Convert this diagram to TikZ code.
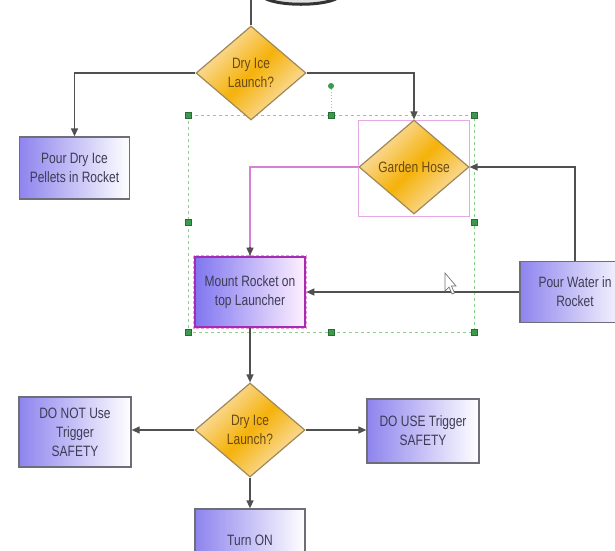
\documentclass[tikz,border=0pt]{standalone}
\usepackage{fontspec}
\setmainfont{Liberation Sans}[FakeStretch=0.8]
\usetikzlibrary{shapes.geometric,arrows.meta}
\definecolor{boxedge}{HTML}{6E6E7A}
\definecolor{boxleft}{HTML}{8E84EE}
\definecolor{boxtext}{HTML}{3C3C55}
\definecolor{diaedge}{HTML}{A08858}
\definecolor{diagold}{HTML}{F5B20A}
\definecolor{dialight}{HTML}{FBE3B8}
\definecolor{diatext}{HTML}{6A4A14}
\definecolor{linegray}{HTML}{505050}
\definecolor{pinkline}{HTML}{D880D8}
\definecolor{pinkbox}{HTML}{E4A8E4}
\definecolor{selgreen}{HTML}{8CD08C}
\definecolor{handlegreen}{HTML}{3C9A4C}
\definecolor{magedge}{HTML}{A42CB4}
\tikzset{
  x=1pt, y=-1pt,
  txt/.style={font=\fontsize{15}{19}\selectfont, align=center},
  box/.style={txt, rectangle, draw=boxedge, line width=1.3pt, left color=boxleft, right color=white, text=boxtext, minimum width=110pt, minimum height=62pt, inner sep=0pt},
  dia/.style={txt, diamond, draw=diaedge, line width=1.2pt, top color=dialight, bottom color=dialight, middle color=diagold, shading angle=45, text=diatext, minimum width=110pt, minimum height=94pt, inner sep=0pt},
  conn/.style={draw=linegray, line width=1.3pt, -{Triangle[length=8pt,width=7pt]}},
  pconn/.style={draw=pinkline, line width=1.2pt},
  handle/.style={fill=handlegreen, draw=handlegreen!70!black, minimum size=6pt, inner sep=0pt, rectangle},
}
\begin{document}
\begin{tikzpicture}
\useasboundingbox (0,0) rectangle (615,550);
\clip (0,0) rectangle (615,550);
\fill[white] (0,0) rectangle (615,550);

% dark shape at top (cut off)
\fill[black!12] (262,-4) .. controls (272,7) and (330,7) .. (340,-4) -- cycle;
\draw[line width=3pt, black!80] (262,-4) .. controls (272,7) and (330,7) .. (340,-4);

% selection frame
\coordinate (s1) at (188,115);
\coordinate (s2) at (474,332);
\draw[selgreen, line width=1pt, dashed] (s1) rectangle (s2);
\draw[selgreen, line width=1pt, dotted] (331,86) -- (331,115);

% nodes
\coordinate (top) at (251,0);
\node[dia] (d1) at (251,73) {Dry Ice\\Launch?};
\node[box] (p1) at (74.5,168) {Pour Dry Ice\\Pellets in Rocket};
\draw[pinkbox, line width=1pt] (358,120) rectangle (469,216);
\node[dia] (gh) at (414,167) {Garden Hose};
\node[box, minimum width=110pt, minimum height=70pt, left color=boxleft!90!blue, right color=magenta!6, draw=magedge, line width=2.6pt] (mr) at (250,292) {Mount Rocket on\\top Launcher};
\draw[magenta!40, line width=1pt, dash pattern=on 3pt off 2pt] (mr.north west) rectangle (mr.south east);
\node[box, minimum height=61pt] (pw) at (575,292) {Pour Water in\\Rocket};
\node[dia] (d2) at (250,430) {Dry Ice\\Launch?};
\node[box, minimum width=112pt, minimum height=70pt] (dn) at (75,432) {DO NOT Use\\Trigger\\SAFETY};
\node[box, minimum width=112pt, minimum height=64pt] (du) at (423,431) {DO USE Trigger\\SAFETY};
\node[box, minimum height=62pt] (on) at (250,540) {Turn ON};

% connectors
\draw[linegray, line width=1.3pt] (top) -- (d1.north);
\draw[conn] (d1.west) -| (p1.north);
\draw[conn] (d1.east) -| (gh.north);
\draw[pconn] (gh.west) -| (mr.north);
\coordinate (mrin) at ([yshift=9pt]mr.north);
\draw[conn] (mrin) -- (mr.north);
\draw[conn] (pw.north) |- (gh.east);
\draw[conn] (pw.west) -- (mr.east);
\draw[conn] (mr.south) -- (d2.north);
\draw[conn] (d2.west) -- (dn.east |- d2.west);
\draw[conn] (d2.east) -- (du.west |- d2.east);
\draw[conn] (d2.south) -- (on.north);

% selection handles
\foreach \p in {(188,115),(331,115),(474,115),(188,222),(474,222),(188,332),(331,332),(474,332)}
  \node[handle] at \p {};
\node[circle, fill=handlegreen, minimum size=6pt, inner sep=0pt] at (331,86) {};

% mouse pointer
\draw[black!55, fill=white, line width=0.7pt] (445,273) -- (445,291) -- (449,287) -- (452,294) -- (454.5,293) -- (451.5,286) -- (456,286) -- cycle;
\end{tikzpicture}
\end{document}
